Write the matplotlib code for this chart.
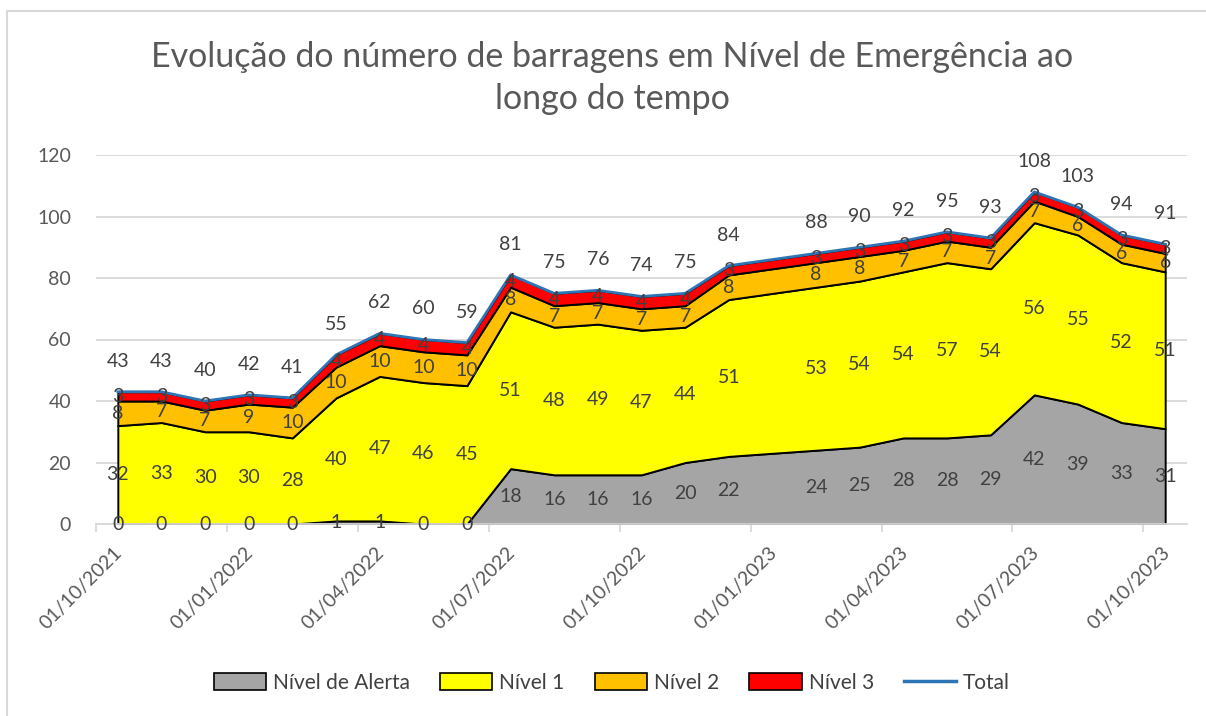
import numpy as np
import pandas as pd
import matplotlib
matplotlib.use("Agg")
import matplotlib.pyplot as plt
from matplotlib.patches import Patch, Rectangle
from matplotlib.lines import Line2D

# ---------- Data (monthly; Jan 2023 missing in source) ----------
dates = ["2021-10", "2021-11", "2021-12", "2022-01", "2022-02", "2022-03",
         "2022-04", "2022-05", "2022-06", "2022-07", "2022-08", "2022-09",
         "2022-10", "2022-11", "2022-12", "2023-02", "2023-03", "2023-04",
         "2023-05", "2023-06", "2023-07", "2023-08", "2023-09", "2023-10"]
alerta = [0, 0, 0, 0, 0, 1, 1, 0, 0, 18, 16, 16, 16, 20, 22, 24, 25, 28, 28, 29, 42, 39, 33, 31]
nivel1 = [32, 33, 30, 30, 28, 40, 47, 46, 45, 51, 48, 49, 47, 44, 51, 53, 54, 54, 57, 54, 56, 55, 52, 51]
nivel2 = [8, 7, 7, 9, 10, 10, 10, 10, 10, 8, 7, 7, 7, 7, 8, 8, 8, 7, 7, 7, 7, 6, 6, 6]
nivel3 = [3, 3, 3, 3, 3, 4, 4, 4, 4, 4, 4, 4, 4, 4, 3, 3, 3, 3, 3, 3, 3, 3, 3, 3]
total = [43, 43, 40, 42, 41, 55, 62, 60, 59, 81, 75, 76, 74, 75, 84, 88, 90, 92, 95, 93, 108, 103, 94, 91]

tick_dates = ["2021-10", "2022-01", "2022-04", "2022-07", "2022-10",
              "2023-01", "2023-04", "2023-07", "2023-10"]

series_names = ["Nível de Alerta", "Nível 1", "Nível 2", "Nível 3"]
colors = ["#A5A5A5", "#FFFF00", "#FFC000", "#FF0000"]
TOTAL_COLOR = "#2E75B6"
TXT = "#404040"
GRID = "#D9D9D9"

plt.rcParams["font.family"] = ["Lato", "DejaVu Sans"]


def month_index(s, start="2021-10"):
    p = pd.Period(s, freq="M")
    return (p - pd.Period(start, freq="M")).n


x = np.array([month_index(d) for d in dates])
layers = [np.array(alerta), np.array(nivel1), np.array(nivel2), np.array(nivel3)]

fig = plt.figure(figsize=(12.06, 7.16), dpi=100)
ax = fig.add_axes([96 / 1206, 1 - 524 / 716, (1187 - 96) / 1206, (524 - 155) / 716])

# frame around the chart (only top/left visible in reference)
fig.patches.append(Rectangle((7 / 1206, -0.1), 1.2, (716 - 11) / 716 + 0.1,
                             transform=fig.transFigure, fill=False,
                             edgecolor=GRID, linewidth=1.5))

ax.stackplot(x, *layers, colors=colors, edgecolor="black", linewidth=1.4, zorder=2)
ax.plot(x, total, color=TOTAL_COLOR, linewidth=2, zorder=3)

# band labels (centered)
bottom = np.zeros(len(x))
for vals in layers:
    for xi, b, v in zip(x, bottom, vals):
        ax.text(xi, b + v / 2, str(v), ha="center", va="center",
                fontsize=14, color=TXT, zorder=4)
    bottom = bottom + vals

# total labels (above)
for xi, t in zip(x, total):
    ax.annotate(str(t), (xi, t), xytext=(0, 22), textcoords="offset points",
                ha="center", va="center", fontsize=14, color=TXT, zorder=4)

ax.set_xlim(-0.5, month_index("2023-10") + 0.5)
ax.set_ylim(0, 120)
ax.set_yticks(range(0, 121, 20))
ax.grid(axis="y", color=GRID, linewidth=1.3, zorder=0)
ax.set_axisbelow(True)

# date labels (rotated, Excel-like) and tick marks between months
ticks = [month_index(d) for d in tick_dates]
ax.set_xticks([t - 0.5 for t in ticks])
ax.set_xticklabels([])
ax.tick_params(axis="x", length=6, color=GRID, width=1.3)
for t, d in zip(ticks, tick_dates):
    ax.annotate(pd.Period(d, freq="M").strftime("01/%m/%Y"), (t, 0),
                xycoords=("data", "axes fraction"), xytext=(-3, -14),
                textcoords="offset points", rotation=45, ha="right", va="top",
                rotation_mode="anchor", fontsize=14, color="#595959",
                annotation_clip=False)
ax.tick_params(axis="y", length=0, pad=18, labelsize=14, labelcolor="#595959")

for s in ["top", "right", "left"]:
    ax.spines[s].set_visible(False)
ax.spines["bottom"].set_color(GRID)
ax.spines["bottom"].set_linewidth(1.3)

fig.text(612 / 1206, 1 - 78 / 716,
         "Evolução do número de barragens em Nível de Emergência ao\nlongo do tempo",
         ha="center", va="center", fontsize=24.5, color="#595959", linespacing=1.42)

handles = [Patch(facecolor=c, edgecolor="black", linewidth=1.2) for c in colors]
handles.append(Line2D([0], [0], color=TOTAL_COLOR, linewidth=2.5))
fig.legend(handles, series_names + ["Total"], loc="center",
           bbox_to_anchor=(612 / 1206, 1 - 683 / 716), ncol=5, frameon=False,
           fontsize=15, labelcolor=TXT, handlelength=2.5, handleheight=0.85,
           handletextpad=0.34, columnspacing=1.45)

fig.savefig("out.png", dpi=100)
